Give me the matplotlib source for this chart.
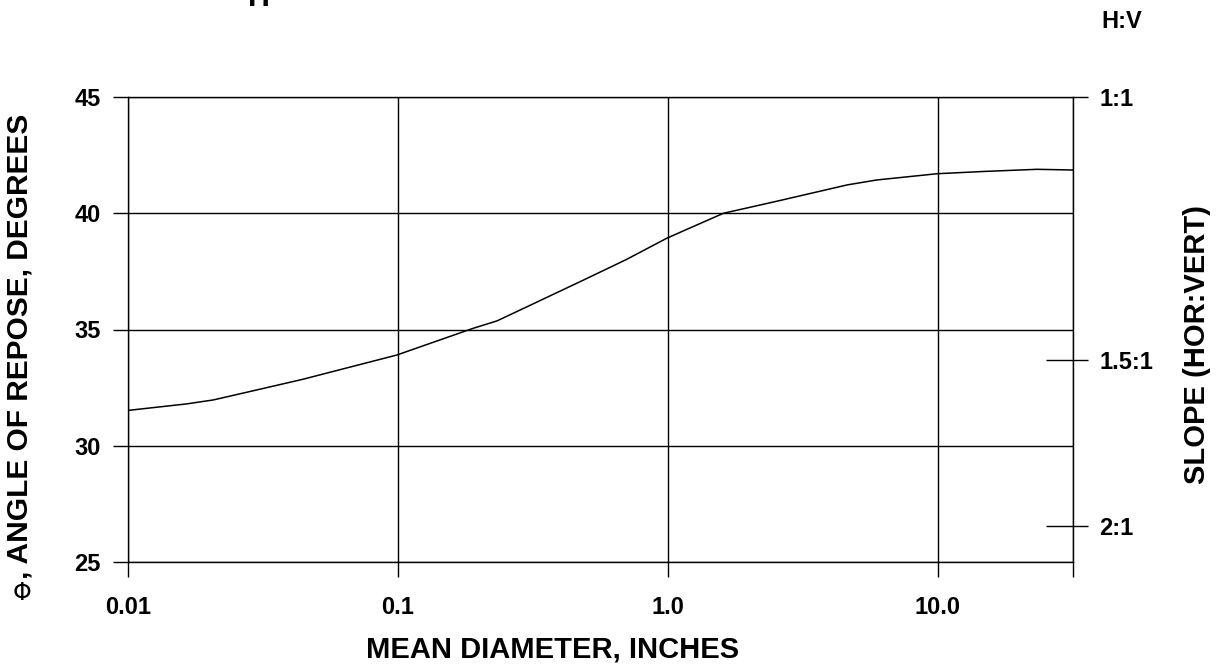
import matplotlib
matplotlib.use('Agg')
import matplotlib.pyplot as plt
from matplotlib.ticker import NullLocator
import numpy as np

plt.rcParams['font.family'] = ['Liberation Sans', 'DejaVu Sans']

# Data
diameter_in = [0.01, 0.0165, 0.0207, 0.03, 0.0445, 0.07, 0.099, 0.19, 0.233, 0.3,
               0.48, 0.7, 0.99, 1.2, 1.61, 2.5, 4.63, 5.94, 9.96, 15.0, 23.4, 31.6]
angle_deg = [31.52, 31.8, 31.97, 32.4, 32.86, 33.45, 33.9, 35.05, 35.37, 35.97,
             37.09, 38.0, 38.92, 39.35, 40.0, 40.5, 41.22, 41.43, 41.7, 41.8, 41.89, 41.86]

x_ticks = [0.01, 0.1, 1.0, 10.0, 10 ** 1.5]
x_tick_labels = ['0.01', '0.1', '1.0', '10.0', '']
y_ticks = [25, 30, 35, 40, 45]
slope_ratios = [1.0, 1.5, 2.0]
slope_labels = ['1:1', '1.5:1', '2:1']

W, H = 1225, 666
fig = plt.figure(figsize=(W / 100, H / 100), dpi=100)
L, R, T, B = 128, 1072.5, 97, 562
ax = fig.add_axes([L / W, 1 - B / H, (R - L) / W, (B - T) / H])

ax.plot(diameter_in, angle_deg, color='black', lw=1.1)
ax.set_xscale('log')
ax.set_xlim(0.01, 10 ** 1.5)
ax.set_ylim(25, 45)
ax.set_xticks(x_ticks)
ax.set_xticklabels(x_tick_labels)
ax.xaxis.set_minor_locator(NullLocator())
ax.set_yticks(y_ticks)
ax.grid(True, color='black', lw=1.0)
ax.tick_params(axis='both', direction='out', length=10.8, width=1.0,
               labelsize=17, color='black')
ax.tick_params(axis='x', pad=14)
ax.tick_params(axis='y', pad=9)
for lab in ax.get_xticklabels() + ax.get_yticklabels():
    lab.set_fontweight('bold')
for s in ax.spines.values():
    s.set_linewidth(1.0)
    s.set_color('black')

slope_deg = [np.degrees(np.arctan(1.0 / r)) for r in slope_ratios]

ax2 = ax.twinx()
ax2.set_ylim(25, 45)
ax2.set_yticks(slope_deg)
ax2.set_yticklabels(slope_labels)
ax2.tick_params(axis='y', direction='out', length=10.8, width=1.0, labelsize=17, pad=8.6)
for lab in ax2.get_yticklabels():
    lab.set_fontweight('bold')
for s in ax2.spines.values():
    s.set_visible(False)

ax3 = ax.twinx()
ax3.set_ylim(25, 45)
ax3.set_yticks(slope_deg[1:])
ax3.set_yticklabels([])
ax3.tick_params(axis='y', direction='in', length=19.4, width=1.0)
for s in ax3.spines.values():
    s.set_visible(False)

# Labels
fig.text(553 / W, 1 - 658 / H, 'MEAN DIAMETER, INCHES', ha='center', va='baseline',
         fontsize=21, fontweight='bold')
fig.text(20 / W, 1 - 346 / H, ', ANGLE OF REPOSE, DEGREES', rotation=90,
         ha='center', va='center', fontsize=21.5, fontweight='bold')
fig.text(22 / W, 1 - 593 / H, '\u03a6', ha='center', va='center', fontsize=17,
         family=['DejaVu Sans'])
fig.text(1197 / W, 1 - 345 / H, 'SLOPE (HOR:VERT)', rotation=90,
         ha='center', va='center', fontsize=21, fontweight='bold')
fig.text(1122 / W, 1 - 22 / H, 'H:V', ha='center', va='center', fontsize=17,
         fontweight='bold')
fig.text(259 / W, 1 - 6 / H, 'H', ha='center', va='baseline', fontsize=22,
         fontweight='bold')

fig.savefig('out.png', dpi=100)
